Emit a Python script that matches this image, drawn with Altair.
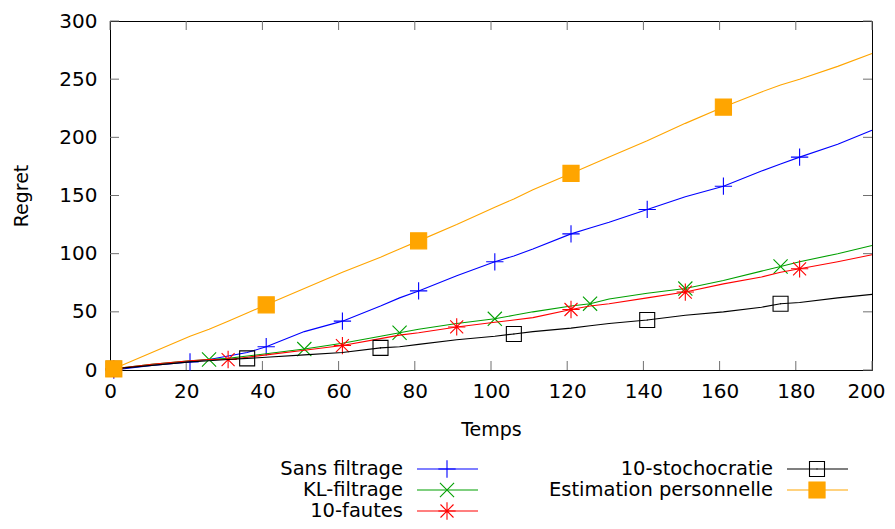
import altair as alt
import pandas as pd

# ---- data ----
t = [1, 11, 21, 26, 31, 36, 41, 51, 61, 71, 76, 81, 91, 101, 106, 111, 121, 126,
     131, 141, 151, 161, 171, 176, 181, 191, 200]
sans_filtrage = [0, 4, 7, 9, 12, 15, 20, 33, 42, 55, 62, 68, 81, 93, 98, 104, 117, 122,
                 127, 138, 149, 158, 171, 177, 183, 194, 206]
kl_filtrage = [1, 5, 8, 9, 10, 12, 14, 18, 23, 29, 32, 35, 40, 44, 47, 50, 55, 57,
               61, 66, 70, 77, 85, 89, 93, 100, 107]
dix_fautes = [1, 5, 8, 9, 9, 11, 13, 17, 21, 27, 30, 32, 37, 41, 43, 45, 52, 55,
              57, 62, 67, 74, 80, 84, 87, 93, 99]
dix_stochocratie = [1, 4, 7, 8, 9, 10, 11, 13, 15, 19, 20, 22, 26, 29, 31, 33, 36, 38,
                    40, 43, 47, 50, 54, 57, 58, 62, 65]
estimation = [1, 15, 29, 35, 42, 49, 56, 70, 84, 97, 104, 111, 125, 140, 147, 155, 169, 176,
              183, 197, 212, 226, 239, 245, 250, 261, 272]

series_names = ["Sans filtrage", "KL-filtrage", "10-fautes", "10-stochocratie",
                "Estimation personnelle"]
point_every = [20, 25, 30, 35, 40]
x_ticks = list(range(0, 201, 20))
y_ticks = list(range(0, 301, 50))

# ---- styles ----
FONT = "DejaVu Sans"
LFS = 20
TFS = 19
KFS = 19.5
W, H = 762, 349
colors = ["#0000ff", "#00a000", "#ff0000", "#000000", "#ffa500"]
shapes = [
    "M-1,0L1,0M0,-1L0,1",
    "M-1,-1L1,1M-1,1L1,-1",
    "M-1,0L1,0M0,-1L0,1M-0.75,-0.75L0.75,0.75M-0.75,0.75L0.75,-0.75",
    "M-1,-1L1,-1L1,1L-1,1ZM-0.07,0L0.07,0",
    "square",
]
sizes = [300, 200, 300, 225, 260]
fills = ["transparent", "transparent", "transparent", "transparent", "#ffa500"]

all_vals = [sans_filtrage, kl_filtrage, dix_fautes, dix_stochocratie, estimation]
rows = []
for name, vals, every in zip(series_names, all_vals, point_every):
    for ti, v in zip(t, vals):
        rows.append({"series": name, "t": ti, "regret": v,
                     "marker": (ti - 1) % every == 0})
df = pd.DataFrame(rows)

xenc = alt.X("t:Q", scale=alt.Scale(domain=[0, 200], nice=False, zero=False),
             axis=alt.Axis(values=x_ticks, title="Temps", labelPadding=11,
                           titlePadding=19, format="d", labelFlush=False,
                           labelOverlap=False,
                           labelOffset=alt.condition("datum.value == 200",
                                                     alt.value(-6), alt.value(0))))
yenc = alt.Y("regret:Q", scale=alt.Scale(domain=[0, 300], nice=False),
             axis=alt.Axis(values=y_ticks, title="Regret", labelPadding=13,
                           titlePadding=27, format="d", labelFlush=False,
                           labelOverlap=False))

layers = []
# inward ticks (gnuplot style), mirrored
xt = pd.DataFrame({"t": x_ticks})
yt = pd.DataFrame({"regret": y_ticks})
tick_col = "#707070"
layers.append(alt.Chart(xt).mark_rule(color=tick_col, strokeWidth=1).encode(
    x=xenc, y=alt.value(H), y2=alt.value(H - 9)))
layers.append(alt.Chart(xt).mark_rule(color=tick_col, strokeWidth=1).encode(
    x=xenc, y=alt.value(0), y2=alt.value(9)))
layers.append(alt.Chart(yt).mark_rule(color=tick_col, strokeWidth=1).encode(
    y=yenc, x=alt.value(0), x2=alt.value(9)))
layers.append(alt.Chart(yt).mark_rule(color=tick_col, strokeWidth=1).encode(
    y=yenc, x=alt.value(W - 9), x2=alt.value(W)))

for i, name in enumerate(series_names):
    sub = alt.Chart(df).transform_filter(alt.datum.series == name)
    layers.append(sub.mark_line(color=colors[i], strokeWidth=1.1).encode(x=xenc, y=yenc))
    layers.append(sub.transform_filter(alt.datum.marker).mark_point(
        shape=shapes[i], size=sizes[i], stroke=colors[i], fill=fills[i],
        strokeWidth=1.1, opacity=1, filled=False, fillOpacity=1).encode(x=xenc, y=yenc))

# key below the plot, two columns, text right-aligned then sample
key_rows = [448, 469, 490]
for i, name in enumerate(series_names):
    col, row = divmod(i, 3)
    tx = 293 + col * 370
    ty = key_rows[row]
    ld = alt.Chart(pd.DataFrame({"label": [name]}))
    layers.append(ld.mark_text(align="right", baseline="middle", font=FONT,
                               fontSize=KFS, color="black").encode(
        x=alt.value(tx), y=alt.value(ty), text="label:N"))
    layers.append(ld.mark_rule(color=colors[i], strokeWidth=1.1).encode(
        x=alt.value(tx + 14), x2=alt.value(tx + 75), y=alt.value(ty)))
    layers.append(ld.mark_point(shape=shapes[i], size=sizes[i], stroke=colors[i],
                                fill=fills[i], strokeWidth=1.1, opacity=1,
                                filled=False, fillOpacity=1).encode(
        x=alt.value(tx + 44), y=alt.value(ty)))

chart = alt.layer(*layers).properties(
    width=W, height=H,
    autosize=alt.AutoSizeParams(type="none"),
    padding={"left": 102, "top": 13, "right": 15, "bottom": 151},
    background="white",
).configure_view(stroke="black", strokeWidth=1).configure_axis(
    domain=False, ticks=False, grid=False,
    labelFont=FONT, labelFontSize=LFS, labelColor="black",
    titleFont=FONT, titleFontSize=TFS, titleFontWeight="normal", titleColor="black",
)

chart.save("out.html", embed_options={"renderer": "svg", "actions": False})
